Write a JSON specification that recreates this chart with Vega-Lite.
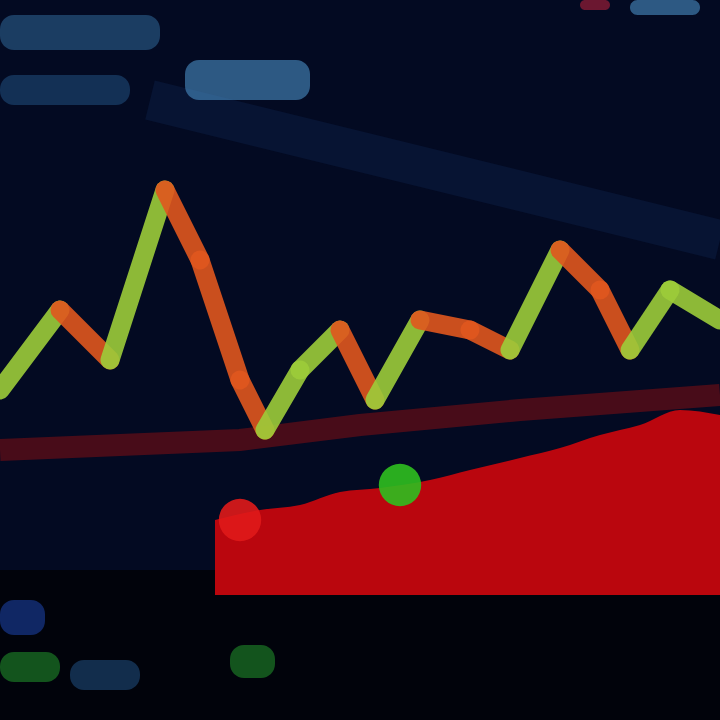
{
  "$schema": "https://vega.github.io/schema/vega-lite/v6.json",
  "width": 720,
  "height": 720,
  "autosize": {"type": "none"},
  "padding": 0,
  "background": "#030a22",
  "config": {"view": {"stroke": null}, "axis": {"disable": true}},
  "resolve": {"scale": {"color": "independent"}},
  "datasets": {
    "blobs": [
      {"t0": 0, "t1": 160, "p0": 670, "p1": 705, "kind": "blue1"},
      {"t0": 185, "t1": 310, "p0": 620, "p1": 660, "kind": "blue2"},
      {"t0": 0, "t1": 130, "p0": 615, "p1": 645, "kind": "blue3"},
      {"t0": 580, "t1": 610, "p0": 710, "p1": 720, "kind": "red"},
      {"t0": 630, "t1": 700, "p0": 705, "p1": 720, "kind": "blue2"},
      {"t0": 0, "t1": 45, "p0": 85, "p1": 120, "kind": "blue4"},
      {"t0": 0, "t1": 60, "p0": 38, "p1": 68, "kind": "green"},
      {"t0": 70, "t1": 140, "p0": 30, "p1": 60, "kind": "blue3"},
      {"t0": 230, "t1": 275, "p0": 42, "p1": 75, "kind": "green"}
    ],
    "band": [
      {"t": 0, "p": 270},
      {"t": 240, "p": 280},
      {"t": 360, "p": 295},
      {"t": 520, "p": 310},
      {"t": 720, "p": 325}
    ],
    "area": [
      {"t": 215, "p": 200},
      {"t": 260, "p": 210},
      {"t": 300, "p": 215},
      {"t": 340, "p": 228},
      {"t": 380, "p": 232},
      {"t": 430, "p": 240},
      {"t": 470, "p": 250},
      {"t": 520, "p": 262},
      {"t": 560, "p": 272},
      {"t": 600, "p": 285},
      {"t": 640, "p": 295},
      {"t": 680, "p": 310},
      {"t": 720, "p": 305}
    ],
    "segs": [
      {"t": 0, "p": 330, "t2": 60, "p2": 410, "dir": "up"},
      {"t": 60, "p": 410, "t2": 110, "p2": 360, "dir": "down"},
      {"t": 110, "p": 360, "t2": 165, "p2": 530, "dir": "up"},
      {"t": 165, "p": 530, "t2": 200, "p2": 460, "dir": "down"},
      {"t": 200, "p": 460, "t2": 240, "p2": 340, "dir": "down"},
      {"t": 240, "p": 340, "t2": 265, "p2": 290, "dir": "down"},
      {"t": 265, "p": 290, "t2": 300, "p2": 350, "dir": "up"},
      {"t": 300, "p": 350, "t2": 340, "p2": 390, "dir": "up"},
      {"t": 340, "p": 390, "t2": 375, "p2": 320, "dir": "down"},
      {"t": 375, "p": 320, "t2": 420, "p2": 400, "dir": "up"},
      {"t": 420, "p": 400, "t2": 470, "p2": 390, "dir": "down"},
      {"t": 470, "p": 390, "t2": 510, "p2": 370, "dir": "down"},
      {"t": 510, "p": 370, "t2": 560, "p2": 470, "dir": "up"},
      {"t": 560, "p": 470, "t2": 600, "p2": 430, "dir": "down"},
      {"t": 600, "p": 430, "t2": 630, "p2": 370, "dir": "down"},
      {"t": 630, "p": 370, "t2": 670, "p2": 430, "dir": "up"},
      {"t": 670, "p": 430, "t2": 720, "p2": 400, "dir": "up"}
    ],
    "dots": [
      {"t": 400, "p": 235, "kind": "green"},
      {"t": 240, "p": 200, "kind": "red"}
    ]
  },
  "layer": [
    {
      "data": {"values": [{"t": 150, "p": 620, "t2": 720, "p2": 480}]},
      "mark": {"type": "rule", "color": "#0c1e44", "strokeWidth": 40, "opacity": 0.5},
      "encoding": {
        "x": {"field": "t", "type": "quantitative", "scale": {"domain": [0, 720]}},
        "y": {"field": "p", "type": "quantitative", "scale": {"domain": [0, 720]}},
        "x2": {"field": "t2"},
        "y2": {"field": "p2"}
      }
    },
    {
      "data": {"values": [{"t0": 0, "t1": 720, "p0": 0, "p1": 150}]},
      "mark": {"type": "rect", "color": "#01030b"},
      "encoding": {
        "x": {"field": "t0", "type": "quantitative", "scale": {"domain": [0, 720]}},
        "x2": {"field": "t1"},
        "y": {"field": "p0", "type": "quantitative", "scale": {"domain": [0, 720]}},
        "y2": {"field": "p1"}
      }
    },
    {
      "data": {"name": "blobs"},
      "mark": {"type": "rect", "cornerRadius": 14, "opacity": 0.6},
      "encoding": {
        "x": {"field": "t0", "type": "quantitative", "scale": {"domain": [0, 720]}},
        "x2": {"field": "t1"},
        "y": {"field": "p0", "type": "quantitative", "scale": {"domain": [0, 720]}},
        "y2": {"field": "p1"},
        "color": {
          "field": "kind",
          "type": "nominal",
          "legend": null,
          "scale": {
            "domain": ["blue1", "blue2", "blue3", "blue4", "red", "green"],
            "range": ["#2b5f8e", "#4a8ec4", "#1e4a78", "#1a3fa0", "#b0203a", "#1f8a2a"]
          }
        }
      }
    },
    {
      "data": {"name": "band"},
      "mark": {"type": "line", "color": "#5a0d18", "strokeWidth": 22, "opacity": 0.8},
      "encoding": {
        "x": {"field": "t", "type": "quantitative", "scale": {"domain": [0, 720]}},
        "y": {"field": "p", "type": "quantitative", "scale": {"domain": [0, 720]}}
      }
    },
    {
      "data": {"name": "area"},
      "mark": {"type": "area", "color": "#c4060e", "interpolate": "monotone", "opacity": 0.95},
      "encoding": {
        "x": {"field": "t", "type": "quantitative", "scale": {"domain": [0, 720]}},
        "y": {"field": "p", "type": "quantitative", "scale": {"domain": [0, 720]}},
        "y2": {"datum": 125}
      }
    },
    {
      "data": {"name": "segs"},
      "mark": {"type": "rule", "strokeWidth": 19, "strokeCap": "round", "opacity": 0.9},
      "encoding": {
        "x": {"field": "t", "type": "quantitative", "scale": {"domain": [0, 720]}},
        "y": {"field": "p", "type": "quantitative", "scale": {"domain": [0, 720]}},
        "x2": {"field": "t2"},
        "y2": {"field": "p2"},
        "color": {
          "field": "dir",
          "type": "nominal",
          "legend": null,
          "scale": {"domain": ["up", "down"], "range": ["#9ccc3a", "#e0561e"]}
        }
      }
    },
    {
      "data": {"name": "dots"},
      "mark": {"type": "point", "filled": true, "size": 1800, "opacity": 0.9},
      "encoding": {
        "x": {"field": "t", "type": "quantitative", "scale": {"domain": [0, 720]}},
        "y": {"field": "p", "type": "quantitative", "scale": {"domain": [0, 720]}},
        "color": {
          "field": "kind",
          "type": "nominal",
          "legend": null,
          "scale": {"domain": ["green", "red"], "range": ["#2fbf1f", "#e01a1a"]}
        }
      }
    }
  ]
}
